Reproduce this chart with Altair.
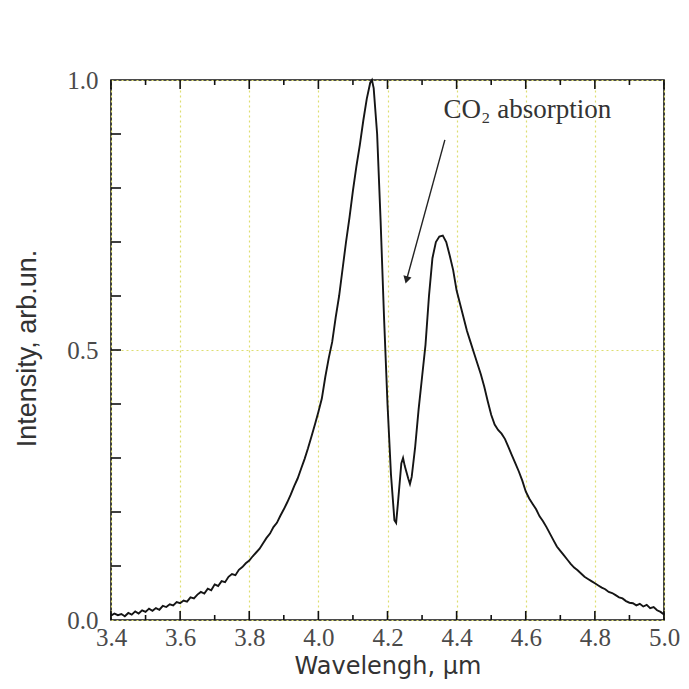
import altair as alt
import pandas as pd

# ---- data ----
wavelength = [
    3.40, 3.41, 3.42, 3.43, 3.44, 3.45, 3.46, 3.47, 3.48, 3.49,
    3.50, 3.51, 3.52, 3.53, 3.54, 3.55, 3.56, 3.57, 3.58, 3.59,
    3.60, 3.61, 3.62, 3.63, 3.64, 3.65, 3.66, 3.67, 3.68, 3.69,
    3.70, 3.71, 3.72, 3.73, 3.74, 3.75, 3.76, 3.77, 3.78, 3.79,
    3.80, 3.81, 3.82, 3.83, 3.84, 3.85, 3.86, 3.87, 3.88, 3.89,
    3.90, 3.91, 3.92, 3.93, 3.94, 3.95, 3.96, 3.97, 3.98, 3.99,
    4.00, 4.01, 4.02, 4.03, 4.04, 4.05, 4.06, 4.07, 4.08, 4.09,
    4.10, 4.11, 4.12, 4.13, 4.14, 4.15, 4.155, 4.16, 4.17, 4.18,
    4.19, 4.20, 4.21, 4.22, 4.225, 4.23, 4.24, 4.245, 4.25, 4.26,
    4.265, 4.27, 4.28, 4.29, 4.30, 4.31, 4.32, 4.33, 4.34, 4.35,
    4.36, 4.37, 4.38, 4.39, 4.40, 4.41, 4.42, 4.43, 4.44, 4.45,
    4.46, 4.47, 4.48, 4.49, 4.50, 4.51, 4.52, 4.53, 4.54, 4.55,
    4.56, 4.57, 4.58, 4.59, 4.60, 4.61, 4.62, 4.63, 4.64, 4.65,
    4.66, 4.67, 4.68, 4.69, 4.70, 4.71, 4.72, 4.73, 4.74, 4.75,
    4.76, 4.77, 4.78, 4.79, 4.80, 4.81, 4.82, 4.83, 4.84, 4.85,
    4.86, 4.87, 4.88, 4.89, 4.90, 4.91, 4.92, 4.93, 4.94, 4.95,
    4.96, 4.97, 4.98, 4.99, 5.00,
]
intensity = [
    0.008, 0.012, 0.009, 0.011, 0.007, 0.013, 0.010, 0.016, 0.012, 0.018,
    0.015, 0.021, 0.017, 0.022, 0.019, 0.026, 0.024, 0.029, 0.027, 0.033,
    0.031, 0.036, 0.034, 0.042, 0.040, 0.047, 0.052, 0.049, 0.058, 0.055,
    0.066, 0.063, 0.072, 0.070, 0.080, 0.085, 0.083, 0.093, 0.098, 0.105,
    0.110, 0.118, 0.125, 0.132, 0.142, 0.152, 0.160, 0.172, 0.180, 0.193,
    0.205, 0.218, 0.232, 0.248, 0.262, 0.280, 0.298, 0.318, 0.340, 0.362,
    0.385, 0.410, 0.450, 0.485, 0.515, 0.560, 0.600, 0.650, 0.700, 0.745,
    0.795, 0.840, 0.880, 0.925, 0.965, 0.995, 1.000, 0.985, 0.900, 0.740,
    0.560, 0.400, 0.270, 0.185, 0.180, 0.215, 0.290, 0.300, 0.285, 0.262,
    0.252, 0.265, 0.320, 0.390, 0.450, 0.510, 0.600, 0.670, 0.700, 0.710,
    0.712, 0.700, 0.675, 0.648, 0.610, 0.585, 0.560, 0.535, 0.515, 0.495,
    0.475, 0.455, 0.432, 0.405, 0.380, 0.362, 0.352, 0.345, 0.335, 0.320,
    0.305, 0.290, 0.275, 0.258, 0.238, 0.225, 0.215, 0.205, 0.192, 0.183,
    0.172, 0.160, 0.148, 0.136, 0.128, 0.120, 0.112, 0.104, 0.097, 0.092,
    0.086, 0.080, 0.076, 0.072, 0.068, 0.064, 0.060, 0.057, 0.052, 0.050,
    0.046, 0.042, 0.040, 0.035, 0.032, 0.031, 0.027, 0.030, 0.025, 0.028,
    0.022, 0.024, 0.018, 0.015, 0.010,
]

x_labels = [3.4, 3.6, 3.8, 4.0, 4.2, 4.4, 4.6, 4.8, 5.0]
x_minor = [3.5, 3.7, 3.9, 4.1, 4.3, 4.5, 4.7, 4.9]
y_labels = [0.0, 0.5, 1.0]
y_minor = [0.1, 0.2, 0.3, 0.4, 0.5, 0.6, 0.7, 0.8, 0.9]

annot_text = ["CO\u2082 absorption"]
annot_x = [4.362]
annot_y = [0.929]
arrow_from = [4.366, 0.889]
arrow_to = [4.256, 0.632]

W, H = 553, 540

df = pd.DataFrame({"wl": wavelength, "I": intensity})

xscale = alt.Scale(domain=[3.4, 5.0], nice=False, zero=False)
yscale = alt.Scale(domain=[0.0, 1.0], nice=False)

line = alt.Chart(df).mark_line(color="#151515", strokeWidth=1.9).encode(
    x=alt.X("wl:Q", scale=xscale, axis=alt.Axis(
        values=x_labels, format=".1f", title="Wavelengh, \u03bcm",
        labelFlush=False, labelOverlap=False,
        labelFont="Liberation Serif", labelFontSize=25, labelPadding=5,
        titleY=53, titleBaseline="alphabetic")),
    y=alt.Y("I:Q", scale=yscale, axis=alt.Axis(
        values=y_labels, format=".1f", title="Intensity, arb.un.",
        labelFlush=False, labelOverlap=False,
        labelFont="Liberation Serif", labelFontSize=25, labelPadding=13,
        titleX=-76, titleY=H / 2 - 2, titleAngle=-90,
        titleAlign="center", titleBaseline="alphabetic")),
)

def xticks(vals, y0, y1):
    return alt.Chart(pd.DataFrame({"t": vals})).mark_rule(
        color="#111111", strokeWidth=1.6).encode(
        x=alt.X("t:Q", scale=xscale),
        y=alt.value(y0), y2=alt.value(y1))

def yticks(vals, x0, x1):
    return alt.Chart(pd.DataFrame({"t": vals})).mark_rule(
        color="#111111", strokeWidth=1.6).encode(
        y=alt.Y("t:Q", scale=yscale),
        x=alt.value(x0), x2=alt.value(x1))

ticks = [
    xticks(x_labels, H, H - 9), xticks(x_minor, H, H - 5),
    xticks(x_labels, 0, 9), xticks(x_minor, 0, 5),
    yticks(y_minor, 0, 10),
]

annot = alt.Chart(pd.DataFrame({"x": annot_x, "y": annot_y, "t": annot_text})).mark_text(
    font="Liberation Serif", fontSize=27, color="#333333", align="left",
    baseline="alphabetic").encode(
    x=alt.X("x:Q", scale=xscale),
    y=alt.Y("y:Q", scale=yscale), text="t:N")

arrow = alt.Chart(pd.DataFrame({
    "x": [arrow_from[0]], "y": [arrow_from[1]],
    "x2": [arrow_to[0]], "y2": [arrow_to[1]]})).mark_rule(
    color="#222222", strokeWidth=1.4).encode(
    x=alt.X("x:Q", scale=xscale),
    y=alt.Y("y:Q", scale=yscale), x2="x2:Q", y2="y2:Q")

head = alt.Chart(pd.DataFrame({"x": [arrow_to[0]], "y": [arrow_to[1]]})).mark_point(
    shape="triangle", filled=True, color="#222222", size=70, angle=195, opacity=1).encode(
    x=alt.X("x:Q", scale=xscale),
    y=alt.Y("y:Q", scale=yscale))

chart = alt.layer(line, *ticks, arrow, head, annot).properties(
    width=W, height=H,
    autosize=alt.AutoSizeParams(type="none"),
    padding={"left": 103, "top": 72, "right": 17, "bottom": 61},
).configure(background="white").configure_view(
    stroke="#111111", strokeWidth=1.6
).configure_axis(
    grid=True, gridColor="#dede70", gridDash=[2, 3], gridWidth=1.2,
    ticks=False, tickSize=0, domain=False,
    labelFont="Liberation Serif", labelColor="#4a4a4a",
    titleFontWeight="normal", titleColor="#333333",
).configure_axisX(
    titleFont="DejaVu Sans", titleFontSize=24
).configure_axisY(
    titleFont="Liberation Sans", titleFontSize=27
)

chart.save("out.html", embed_options={"renderer": "svg", "actions": False})
